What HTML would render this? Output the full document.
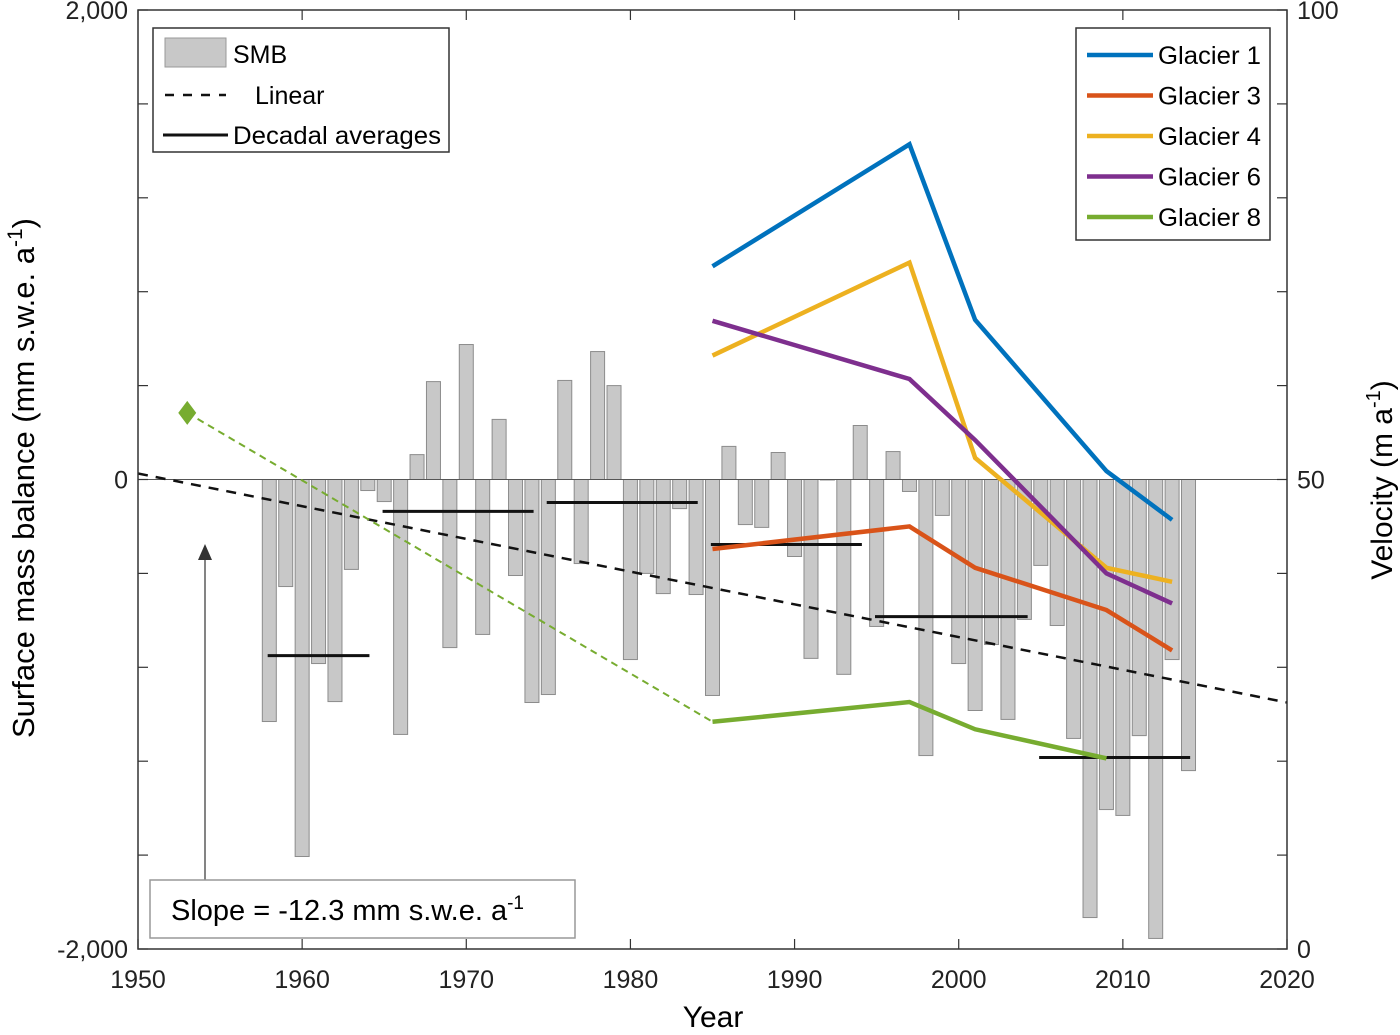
<!DOCTYPE html>
<html><head><meta charset="utf-8"><style>
body{margin:0;background:#fff;}
svg{font-family:"Liberation Sans",Arial,sans-serif;}
</style></head><body>
<svg id="chart" width="1400" height="1030" viewBox="0 0 1400 1030" xmlns="http://www.w3.org/2000/svg">
<g id="bars"></g>
<g id="lines"></g>
<g id="axes"></g>
<g>
<rect x="153" y="28" width="296" height="124" fill="#fff" stroke="#333" stroke-width="1.5"/>
<rect x="165" y="38" width="61" height="29" fill="#c8c8c8" stroke="#999"/>
<text x="233" y="63" font-size="25">SMB</text>
<line x1="165" y1="95" x2="226" y2="95" stroke="#111" stroke-width="2.5" stroke-dasharray="9,9"/>
<text x="255" y="104" font-size="25">Linear</text>
<line x1="163" y1="135" x2="228" y2="135" stroke="#111" stroke-width="3"/>
<text x="233" y="144" font-size="25" textLength="208" lengthAdjust="spacingAndGlyphs">Decadal averages</text>
</g>
<g id="legend-right">
<rect x="1076" y="28" width="194" height="212" fill="#fff" stroke="#333" stroke-width="1.5"/>
</g>
<g>
<line x1="205" y1="880" x2="205" y2="560" stroke="#333" stroke-width="1.2"/>
<polygon points="205,544 198,560 212,560" fill="#333"/>
<rect x="150" y="880" width="425" height="58" fill="#fff" stroke="#999" stroke-width="1.5"/>
<text x="171" y="920" font-size="29">Slope = -12.3 mm s.w.e. a<tspan dy="-11" font-size="19">-1</tspan></text>
</g>
<text x="713" y="1027" font-size="30" text-anchor="middle">Year</text>
<text transform="translate(34,478) rotate(-90)" font-size="31" text-anchor="middle">Surface mass balance (mm s.w.e. a<tspan dy="-12" font-size="21">-1</tspan><tspan dy="12">)</tspan></text>
<text transform="translate(1392,480) rotate(-90)" font-size="30" text-anchor="middle">Velocity (m a<tspan dy="-12" font-size="20">-1</tspan><tspan dy="12">)</tspan></text>
</svg>
<script>
const years = [1958,1959,1960,1961,1962,1963,1964,1965,1966,1967,1968,1969,1970,1971,1972,1973,1974,1975,1976,1977,1978,1979,1980,1981,1982,1983,1984,1985,1986,1987,1988,1989,1990,1991,1992,1993,1994,1995,1996,1997,1998,1999,2000,2001,2002,2003,2004,2005,2006,2007,2008,2009,2010,2011,2012,2013,2014];
const smb = [-1031,-456,-1606,-784,-946,-383,-47,-94,-1086,106,417,-716,575,-660,256,-409,-950,-916,422,-358,545,400,-767,-400,-486,-124,-490,-920,141,-192,-204,115,-328,-762,0,-830,230,-626,119,-51,-1176,-153,-784,-984,-703,-1022,-596,-366,-622,-1103,-1866,-1406,-1431,-1091,-1955,-767,-1240];
const decStart = [1958,1965,1975,1985,1995,2005];
const decEnd = [1964.1,1974.1,1984.1,1994.1,2004.2,2014.1];
const decVal = [-750,-136,-98,-277,-584,-1184];
const linYears = [1950,2020];
const linVals = [25.6,-950];
const velYears = [1985,1997,2001,2009,2013];
const g1 = [72.7,85.7,67.0,50.9,45.7];
const g3 = [42.6,45.0,40.6,36.1,31.8];
const g4 = [63.2,73.1,52.3,40.6,39.1];
const g6 = [66.9,60.7,54.2,40.0,36.8];
const g8 = [24.2,26.3,23.4,20.3];
const diamondYear = 1953, diamondVel = 57.1;
const xTicks = [1950,1960,1970,1980,1990,2000,2010,2020];
const yTicksL = [-2000,-1600,-1200,-800,-400,0,400,800,1200,1600,2000];
const yLabelsL = ["-2,000","","","","","0","","","","","2,000"];
const yTicksR = [0,10,20,30,40,50,60,70,80,90,100];
const yLabelsR = ["0","","","","","50","","","","","100"];

const NS="http://www.w3.org/2000/svg";
const X0=138,X1=1287,Y0=10,Y1=949;
const x=v=>X0+(v-1950)/70*(X1-X0);
const yL=v=>Y0+(2000-v)/4000*(Y1-Y0);
const yR=v=>Y0+(100-v)/100*(Y1-Y0);
function mk(tag,attrs,parent){const e=document.createElementNS(NS,tag);for(const k in attrs)e.setAttribute(k,attrs[k]);parent.appendChild(e);return e;}
const bars=document.getElementById('bars'),lines=document.getElementById('lines'),axes=document.getElementById('axes');
years.forEach((yr,i)=>{
  const v=smb[i];const top=Math.min(yL(v),yL(0)),h=Math.abs(yL(v)-yL(0));
  const r=mk('rect',{x:x(yr)-7,y:top,width:14,height:Math.max(h,0.5),fill:'#c8c8c8',stroke:'#8c8c8c','stroke-width':1},bars);
  
  
});
mk('line',{x1:X0,y1:yL(0),x2:X1,y2:yL(0),stroke:'#555','stroke-width':1},lines);
const lin=mk('line',{x1:x(linYears[0]),y1:yL(linVals[0]),x2:x(linYears[1]),y2:yL(linVals[1]),stroke:'#111','stroke-width':2.5,'stroke-dasharray':'10,8'},lines);


decStart.forEach((s,i)=>{
  const l=mk('line',{x1:x(s-0.1),y1:yL(decVal[i]),x2:x(decEnd[i]),y2:yL(decVal[i]),stroke:'#111','stroke-width':3},lines);
  
  
});
const gd=mk('line',{x1:x(diamondYear),y1:yR(diamondVel),x2:x(velYears[0]),y2:yR(g8[0]),stroke:'#77ac30','stroke-width':2,'stroke-dasharray':'7,5'},lines);


const dx=x(diamondYear),dy=yR(diamondVel);
const dm=mk('polygon',{points:`${dx},${dy-12} ${dx+9},${dy} ${dx},${dy+12} ${dx-9},${dy}`,fill:'#77ac30'},lines);


const series=[['Glacier 1',g1,'#0072bd'],['Glacier 3',g3,'#d95319'],['Glacier 4',g4,'#edb120'],['Glacier 6',g6,'#7e2f8e'],['Glacier 8',g8,'#77ac30']];
series.forEach(([name,vals,col])=>{
  const pts=vals.map((v,i)=>x(velYears[i])+','+yR(v)).join(' ');
  const p=mk('polyline',{points:pts,fill:'none',stroke:col,'stroke-width':4.5,'stroke-linejoin':'miter'},lines);
  
  
});
const lr=document.getElementById('legend-right');
series.forEach(([name,vals,col],i)=>{
  const yy=55+i*40.5;
  const l=mk('line',{x1:1087,y1:yy,x2:1153,y2:yy,stroke:col,'stroke-width':4.5},lr);
  
  
  const t=mk('text',{x:1158,y:yy+9,'font-size':25,textLength:103,lengthAdjust:'spacingAndGlyphs'},lr);t.textContent=name;
  
  
});
mk('rect',{x:X0,y:Y0,width:X1-X0,height:Y1-Y0,fill:'none',stroke:'#333','stroke-width':1.5},axes);
xTicks.forEach(t=>{
  mk('line',{x1:x(t),y1:Y1,x2:x(t),y2:Y1-10,stroke:'#333','stroke-width':1.2},axes);
  mk('line',{x1:x(t),y1:Y0,x2:x(t),y2:Y0+10,stroke:'#333','stroke-width':1.2},axes);
  const tx=mk('text',{x:x(t),y:988,'font-size':25,'text-anchor':'middle',fill:'#222'},axes);tx.textContent=t;
  
  
});
yTicksL.forEach((t,i)=>{
  mk('line',{x1:X0,y1:yL(t),x2:X0+10,y2:yL(t),stroke:'#333','stroke-width':1.2},axes);
  if(yLabelsL[i]){const tx=mk('text',{x:128,y:yL(t)+9,'font-size':25,'text-anchor':'end',fill:'#222'},axes);tx.textContent=yLabelsL[i];
  
  }
});
yTicksR.forEach((t,i)=>{
  mk('line',{x1:X1,y1:yR(t),x2:X1-10,y2:yR(t),stroke:'#333','stroke-width':1.2},axes);
  if(yLabelsR[i]){const tx=mk('text',{x:1297,y:yR(t)+9,'font-size':25,fill:'#222'},axes);tx.textContent=yLabelsR[i];
  
  }
});
</script>
</body></html>
